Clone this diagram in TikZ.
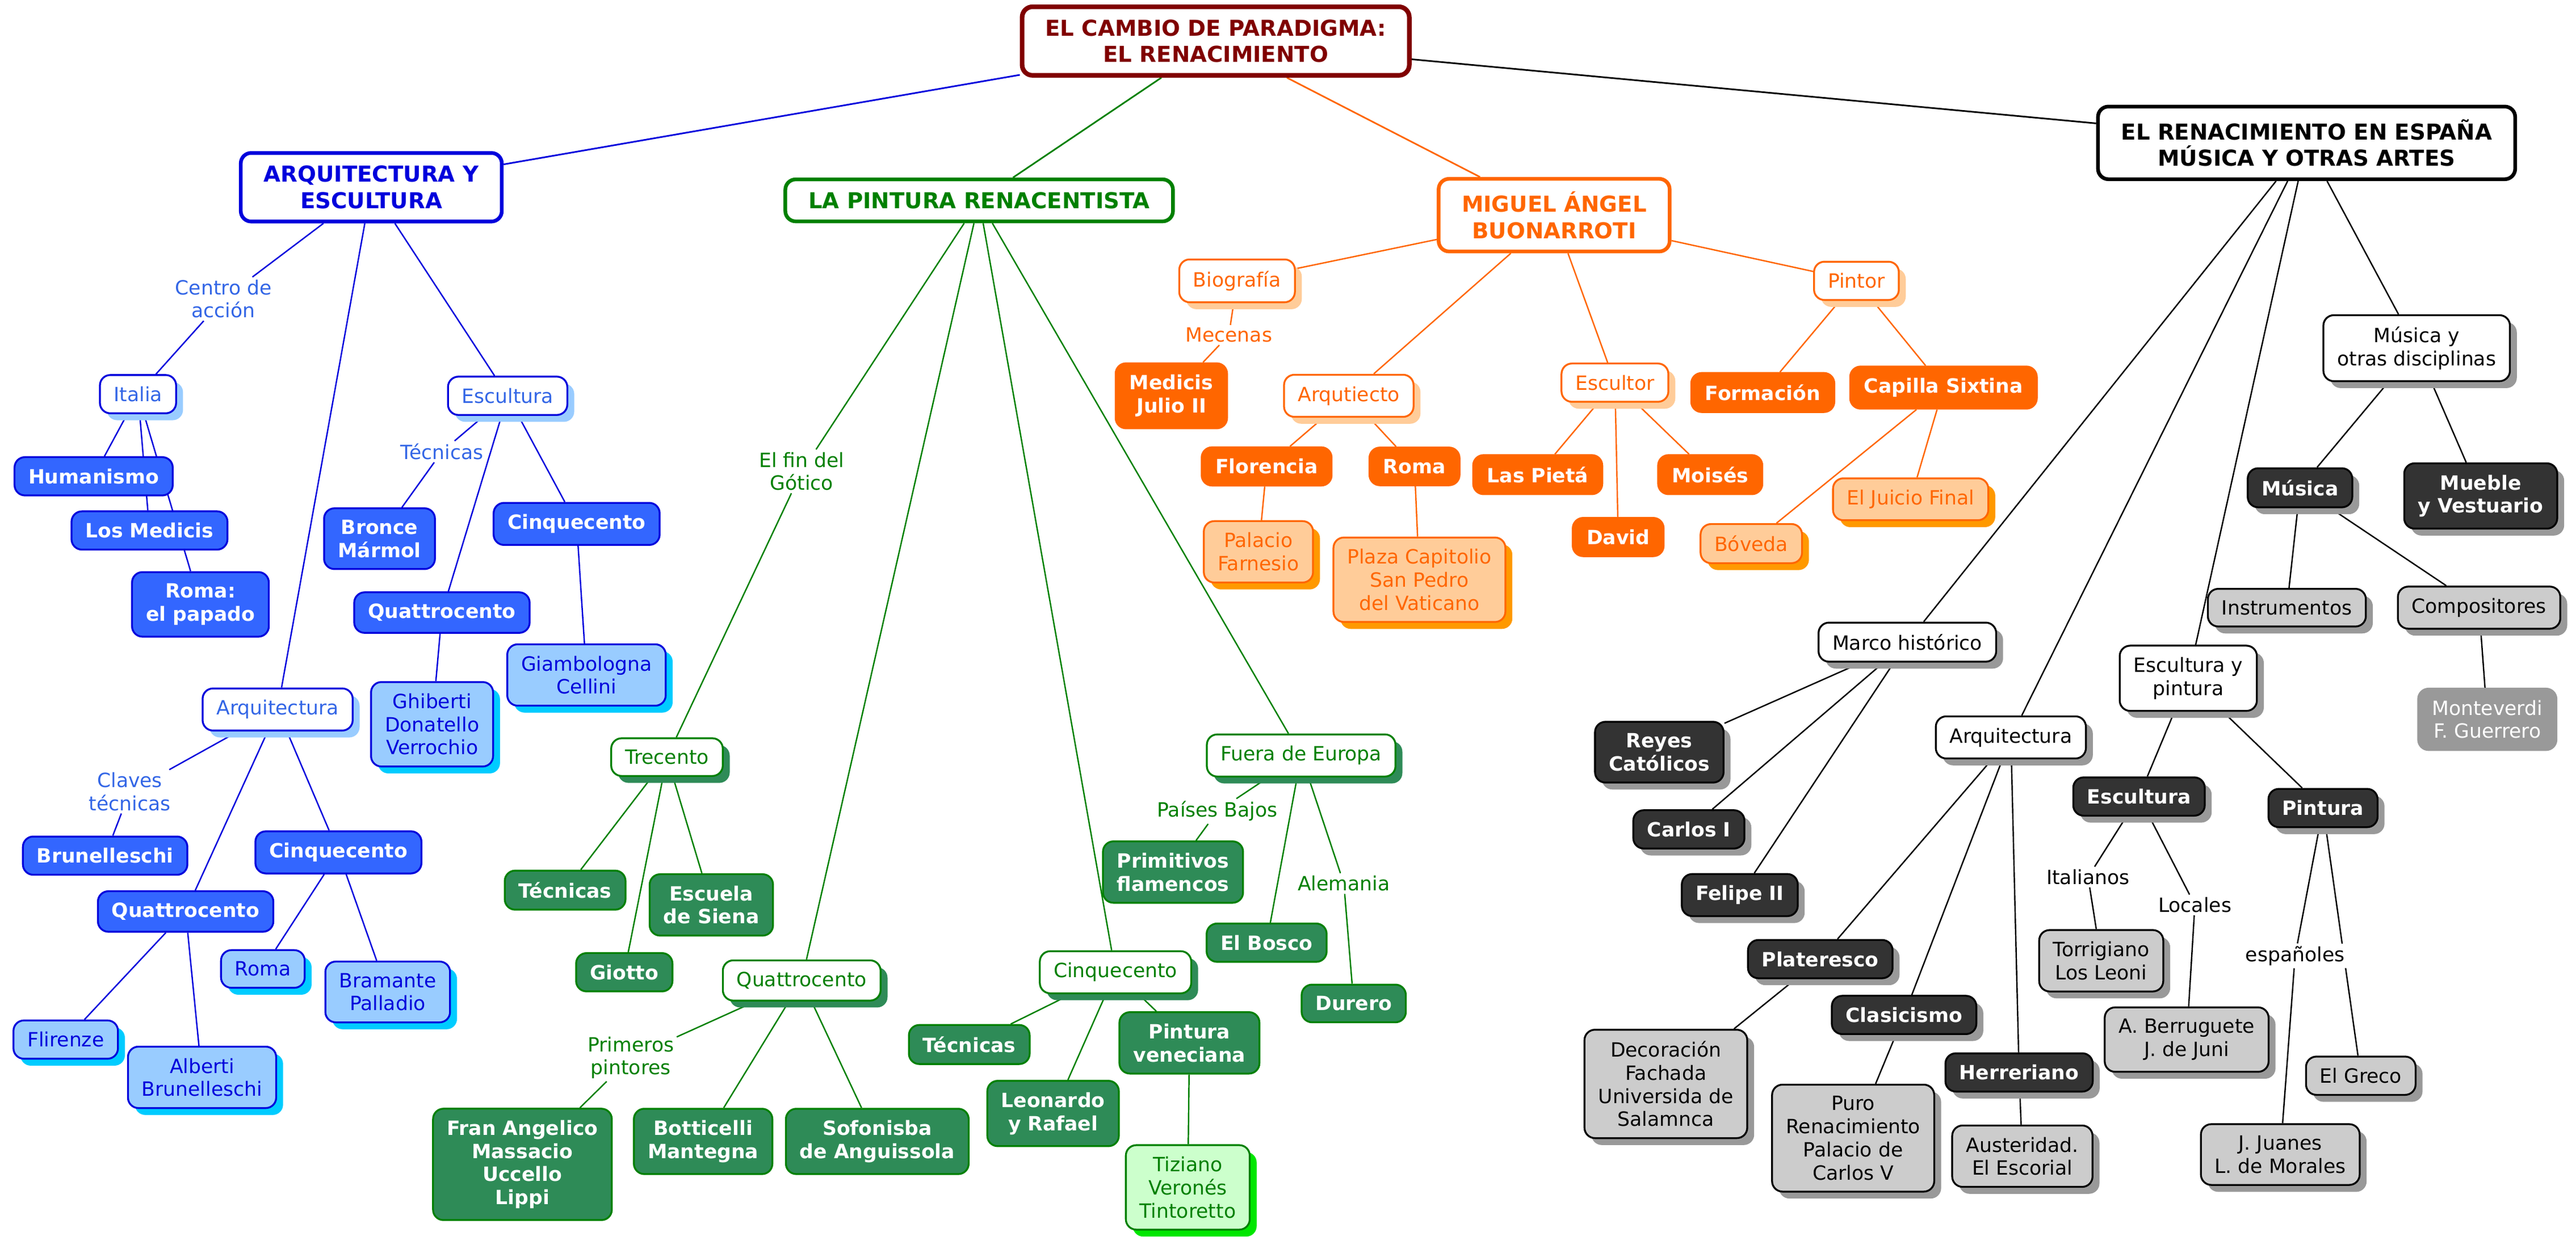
\documentclass[tikz,border=0pt]{standalone}
\usepackage{fontspec}
\setmainfont{DejaVu Sans}
\usetikzlibrary{shadows,backgrounds}

\definecolor{cm_red}{RGB}{128,0,0}
\definecolor{cm_blue}{RGB}{0,0,220}
\definecolor{cm_bluetext}{RGB}{51,102,230}
\definecolor{cm_bluefill}{RGB}{51,102,255}
\definecolor{cm_bluelight}{RGB}{153,204,255}
\definecolor{cm_cyan}{RGB}{0,204,255}
\definecolor{cm_green}{RGB}{0,128,0}
\definecolor{cm_greenfill}{RGB}{46,139,87}
\definecolor{cm_greenlight}{RGB}{204,255,204}
\definecolor{cm_greenshadow}{RGB}{0,230,0}
\definecolor{cm_orange}{RGB}{255,102,0}
\definecolor{cm_orangelight}{RGB}{255,204,153}
\definecolor{cm_orangeshadow}{RGB}{255,153,0}
\definecolor{cm_dark}{RGB}{51,51,51}
\definecolor{cm_gray}{RGB}{204,204,204}
\definecolor{cm_midgray}{RGB}{153,153,153}

\tikzset{
  box/.style={rectangle,rounded corners=4.5pt,draw,line width=0.8pt,inner xsep=6pt,inner ysep=5pt,
    align=center,font=\fontsize{8.5}{10}\selectfont},
  boldbox/.style={box,font=\fontsize{8.5}{10}\selectfont\bfseries},
  mainbox/.style={box,line width=1.6pt,inner xsep=10pt,inner ysep=5.5pt,fill=white,font=\fontsize{9.5}{11.5}\selectfont\bfseries},
  sh/.style={general shadow={shadow xshift=3pt,shadow yshift=-3pt,fill=#1}},
  lbl/.style={fill=white,inner sep=1pt,align=center,font=\fontsize{8.5}{10}\selectfont},
  % blue branch
  bluewhite/.style={box,draw=cm_blue,fill=white,text=cm_bluetext,sh=cm_bluelight},
  bluefill/.style={boldbox,draw=cm_blue,fill=cm_bluefill,text=white},
  bluelight/.style={box,draw=cm_blue,fill=cm_bluelight,text=cm_blue,sh=cm_cyan},
  % green branch
  greenwhite/.style={box,draw=cm_green,fill=white,text=cm_green,sh=cm_greenfill},
  greenfill/.style={boldbox,draw=cm_green,fill=cm_greenfill,text=white},
  greenlight/.style={box,draw=cm_green,fill=cm_greenlight,text=cm_green,sh=cm_greenshadow},
  % orange branch
  orangewhite/.style={box,draw=cm_orange,fill=white,text=cm_orange,sh=cm_orangelight},
  orangefill/.style={boldbox,draw=cm_orange,fill=cm_orange,text=white},
  orangelight/.style={box,draw=cm_orange,fill=cm_orangelight,text=cm_orange,sh=cm_orangeshadow},
  % black branch
  graywhite/.style={box,draw=black,fill=white,text=black,sh=cm_midgray},
  grayfill/.style={boldbox,draw=black,fill=cm_dark,text=white,sh=cm_midgray},
  graylight/.style={box,draw=black,fill=cm_gray,text=black,sh=cm_midgray},
}

\begin{document}
\begin{tikzpicture}[x=0.025cm,y=-0.025cm]
    \useasboundingbox (0,0) rectangle (1568,758);

    % root
    \node[mainbox,draw=cm_red,text=cm_red,line width=2pt] (root) at (740,25) {EL CAMBIO DE PARADIGMA:\\EL RENACIMIENTO};

    % arquitectura y escultura
    \node[mainbox,draw=cm_blue,text=cm_blue] (arqesc) at (226,114) {ARQUITECTURA Y\\ESCULTURA};
    \node[lbl,text=cm_bluetext] (centro) at (136,182) {Centro de\\acción};
    \node[bluewhite] (italia) at (84,240) {Italia};
    \node[bluefill] (humanismo) at (57,290) {Humanismo};
    \node[bluefill] (medicis) at (91,323) {Los Medicis};
    \node[bluefill] (papado) at (122,368) {Roma:\\el papado};
    \node[bluewhite] (escultura) at (309,241) {Escultura};
    \node[lbl,text=cm_bluetext] (tecnicasE) at (269,275) {Técnicas};
    \node[bluefill] (bronce) at (231,328) {Bronce\\Mármol};
    \node[bluefill] (quattroE) at (269,373) {Quattrocento};
    \node[bluefill] (cinqueE) at (351,319) {Cinquecento};
    \node[bluelight] (ghiberti) at (263,441) {Ghiberti\\Donatello\\Verrochio};
    \node[bluelight] (giambologna) at (357,411) {Giambologna\\Cellini};
    \node[bluewhite] (arquitectura) at (169,432) {Arquitectura};
    \node[lbl,text=cm_bluetext] (claves) at (79,482) {Claves\\técnicas};
    \node[bluefill] (brunelleschi) at (64,521) {Brunelleschi};
    \node[bluefill] (quattroA) at (113,555) {Quattrocento};
    \node[bluefill] (cinqueA) at (206,519) {Cinquecento};
    \node[bluelight] (flirenze) at (40,633) {Flirenze};
    \node[bluelight] (alberti) at (123,656) {Alberti\\Brunelleschi};
    \node[bluelight] (romaA) at (160,590) {Roma};
    \node[bluelight] (bramante) at (236,604) {Bramante\\Palladio};

    % pintura renacentista
    \node[mainbox,draw=cm_green,text=cm_green] (pintura) at (596,122) {LA PINTURA RENACENTISTA};
    \node[lbl,text=cm_green] (gotico) at (488,287) {El fin del\\Gótico};
    \node[greenwhite] (trecento) at (406,461) {Trecento};
    \node[greenfill] (tecnicasT) at (344,542) {Técnicas};
    \node[greenfill] (siena) at (433,551) {Escuela\\de Siena};
    \node[greenfill] (giotto) at (380,592) {Giotto};
    \node[greenwhite] (quattroP) at (488,597) {Quattrocento};
    \node[lbl,text=cm_green] (primeros) at (384,644) {Primeros\\pintores};
    \node[greenfill] (angelico) at (318,709) {Fran Angelico\\Massacio\\Uccello\\Lippi};
    \node[greenfill] (botticelli) at (428,695) {Botticelli\\Mantegna};
    \node[greenfill] (sofonisba) at (534,695) {Sofonisba\\de Anguissola};
    \node[greenwhite] (cinqueP) at (679,592) {Cinquecento};
    \node[greenfill] (tecnicasC) at (590,636) {Técnicas};
    \node[greenfill] (leonardo) at (641,678) {Leonardo\\y Rafael};
    \node[greenfill] (veneciana) at (724,635) {Pintura\\veneciana};
    \node[greenlight] (tiziano) at (723,723) {Tiziano\\Veronés\\Tintoretto};
    \node[greenwhite] (fuera) at (792,460) {Fuera de Europa};
    \node[lbl,text=cm_green] (paises) at (741,494) {Países Bajos};
    \node[greenfill] (primitivos) at (714,531) {Primitivos\\flamencos};
    \node[greenfill] (bosco) at (771,574) {El Bosco};
    \node[lbl,text=cm_green] (alemania) at (818,538) {Alemania};
    \node[greenfill] (durero) at (824,611) {Durero};

    % miguel angel
    \node[mainbox,draw=cm_orange,text=cm_orange] (miguel) at (946,131) {MIGUEL ÁNGEL\\BUONARROTI};
    \node[orangewhite] (biografia) at (753,171) {Biografía};
    \node[lbl,text=cm_orange] (mecenas) at (748,204) {Mecenas};
    \node[orangefill] (julio) at (713,241) {Medicis\\Julio II};
    \node[orangewhite] (arqutiecto) at (821,241) {Arqutiecto};
    \node[orangefill] (florencia) at (771,284) {Florencia};
    \node[orangefill] (romaM) at (861,284) {Roma};
    \node[orangelight] (farnesio) at (766,336) {Palacio\\Farnesio};
    \node[orangelight] (capitolio) at (864,353) {Plaza Capitolio\\San Pedro\\del Vaticano};
    \node[orangewhite] (escultor) at (983,233) {Escultor};
    \node[orangefill] (pieta) at (936,289) {Las Pietá};
    \node[orangefill] (moises) at (1041,289) {Moisés};
    \node[orangefill] (david) at (985,327) {David};
    \node[orangewhite] (pintor) at (1130,171) {Pintor};
    \node[orangefill] (formacion) at (1073,239) {Formación};
    \node[orangefill] (sixtina) at (1183,236) {Capilla Sixtina};
    \node[orangelight] (boveda) at (1066,331) {Bóveda};
    \node[orangelight] (juicio) at (1163,304) {El Juicio Final};

    % renacimiento en espana
    \node[mainbox,draw=black,text=black] (espana) at (1404,87) {EL RENACIMIENTO EN ESPAÑA\\MÚSICA Y OTRAS ARTES};
    \node[graywhite] (otras) at (1471,212) {Música y\\otras disciplinas};
    \node[grayfill] (musica) at (1400,297) {Música};
    \node[grayfill] (mueble) at (1510,302) {Mueble\\y Vestuario};
    \node[graylight] (instrumentos) at (1392,370) {Instrumentos};
    \node[graylight] (compositores) at (1509,370) {Compositores};
    \node[box,draw=cm_midgray,fill=cm_midgray,text=white] (monteverdi) at (1514,438) {Monteverdi\\F. Guerrero};
    \node[graywhite] (marco) at (1161,391) {Marco histórico};
    \node[grayfill] (reyes) at (1010,458) {Reyes\\Católicos};
    \node[grayfill] (carlos) at (1028,505) {Carlos I};
    \node[grayfill] (felipe) at (1059,545) {Felipe II};
    \node[graywhite] (escpint) at (1332,413) {Escultura y\\pintura};
    \node[grayfill] (esculturaS) at (1302,485) {Escultura};
    \node[lbl] (italianos) at (1271,534) {Italianos};
    \node[graylight] (torrigiano) at (1279,585) {Torrigiano\\Los Leoni};
    \node[lbl] (locales) at (1336,551) {Locales};
    \node[graylight] (berruguete) at (1331,633) {A. Berruguete\\J. de Juni};
    \node[grayfill] (pinturaS) at (1414,492) {Pintura};
    \node[lbl] (espanoles) at (1397,582) {españoles};
    \node[graylight] (juanes) at (1388,703) {J. Juanes\\L. de Morales};
    \node[graylight] (greco) at (1437,655) {El Greco};
    \node[graywhite] (arqS) at (1224,449) {Arquitectura};
    \node[grayfill] (plateresco) at (1108,584) {Plateresco};
    \node[graylight] (salamanca) at (1014,660) {Decoración\\Fachada\\Universida de\\Salamnca};
    \node[grayfill] (clasicismo) at (1159,618) {Clasicismo};
    \node[graylight] (carlosv) at (1128,693) {Puro\\Renacimiento\\Palacio de\\Carlos V};
    \node[grayfill] (herreriano) at (1229,653) {Herreriano};
    \node[graylight] (escorial) at (1231,704) {Austeridad.\\El Escorial};

    % connectors
    \begin{scope}[on background layer]
    \draw[cm_blue,line width=0.7pt] (root) -- (arqesc);
    \draw[cm_green,line width=0.7pt] (root) -- (pintura);
    \draw[cm_orange,line width=0.7pt] (root) -- (miguel);
    \draw[black,line width=0.7pt] (root) -- (espana);

    \draw[cm_blue,line width=0.6pt] (arqesc) -- (centro) -- (italia);
    \foreach \n in {escultura,arquitectura} \draw[cm_blue,line width=0.6pt] (arqesc) -- (\n);
    \foreach \n in {humanismo,medicis,papado} \draw[cm_blue,line width=0.6pt] (italia) -- (\n);
    \draw[cm_blue,line width=0.6pt] (escultura) -- (tecnicasE) -- (bronce);
    \foreach \n in {quattroE,cinqueE} \draw[cm_blue,line width=0.6pt] (escultura) -- (\n);
    \draw[cm_blue,line width=0.6pt] (quattroE) -- (ghiberti);
    \draw[cm_blue,line width=0.6pt] (cinqueE) -- (giambologna);
    \draw[cm_blue,line width=0.6pt] (arquitectura) -- (claves) -- (brunelleschi);
    \foreach \n in {quattroA,cinqueA} \draw[cm_blue,line width=0.6pt] (arquitectura) -- (\n);
    \foreach \n in {flirenze,alberti} \draw[cm_blue,line width=0.6pt] (quattroA) -- (\n);
    \foreach \n in {romaA,bramante} \draw[cm_blue,line width=0.6pt] (cinqueA) -- (\n);

    \draw[cm_green,line width=0.6pt] (pintura) -- (gotico) -- (trecento);
    \foreach \n in {quattroP,cinqueP,fuera} \draw[cm_green,line width=0.6pt] (pintura) -- (\n);
    \foreach \n in {tecnicasT,siena,giotto} \draw[cm_green,line width=0.6pt] (trecento) -- (\n);
    \draw[cm_green,line width=0.6pt] (quattroP) -- (primeros) -- (angelico);
    \foreach \n in {botticelli,sofonisba} \draw[cm_green,line width=0.6pt] (quattroP) -- (\n);
    \foreach \n in {tecnicasC,leonardo,veneciana} \draw[cm_green,line width=0.6pt] (cinqueP) -- (\n);
    \draw[cm_green,line width=0.6pt] (veneciana) -- (tiziano);
    \draw[cm_green,line width=0.6pt] (fuera) -- (paises) -- (primitivos);
    \draw[cm_green,line width=0.6pt] (fuera) -- (bosco);
    \draw[cm_green,line width=0.6pt] (fuera) -- (alemania) -- (durero);

    \foreach \n in {biografia,arqutiecto,escultor,pintor} \draw[cm_orange,line width=0.6pt] (miguel) -- (\n);
    \draw[cm_orange,line width=0.6pt] (biografia) -- (mecenas) -- (julio);
    \foreach \n in {florencia,romaM} \draw[cm_orange,line width=0.6pt] (arqutiecto) -- (\n);
    \draw[cm_orange,line width=0.6pt] (florencia) -- (farnesio);
    \draw[cm_orange,line width=0.6pt] (romaM) -- (capitolio);
    \foreach \n in {pieta,david,moises} \draw[cm_orange,line width=0.6pt] (escultor) -- (\n);
    \foreach \n in {formacion,sixtina} \draw[cm_orange,line width=0.6pt] (pintor) -- (\n);
    \foreach \n in {boveda,juicio} \draw[cm_orange,line width=0.6pt] (sixtina) -- (\n);

    \foreach \n in {otras,marco,escpint,arqS} \draw[black,line width=0.6pt] (espana) -- (\n);
    \foreach \n in {musica,mueble} \draw[black,line width=0.6pt] (otras) -- (\n);
    \foreach \n in {instrumentos,compositores} \draw[black,line width=0.6pt] (musica) -- (\n);
    \draw[black,line width=0.6pt] (compositores) -- (monteverdi);
    \foreach \n in {reyes,carlos,felipe} \draw[black,line width=0.6pt] (marco) -- (\n);
    \foreach \n in {esculturaS,pinturaS} \draw[black,line width=0.6pt] (escpint) -- (\n);
    \draw[black,line width=0.6pt] (esculturaS) -- (italianos) -- (torrigiano);
    \draw[black,line width=0.6pt] (esculturaS) -- (locales) -- (berruguete);
    \draw[black,line width=0.6pt] (pinturaS) -- (espanoles) -- (juanes);
    \draw[black,line width=0.6pt] (pinturaS) -- (greco);
    \foreach \n in {plateresco,clasicismo,herreriano} \draw[black,line width=0.6pt] (arqS) -- (\n);
    \draw[black,line width=0.6pt] (plateresco) -- (salamanca);
    \draw[black,line width=0.6pt] (clasicismo) -- (carlosv);
    \draw[black,line width=0.6pt] (herreriano) -- (escorial);
    \end{scope}
\end{tikzpicture}
\end{document}
